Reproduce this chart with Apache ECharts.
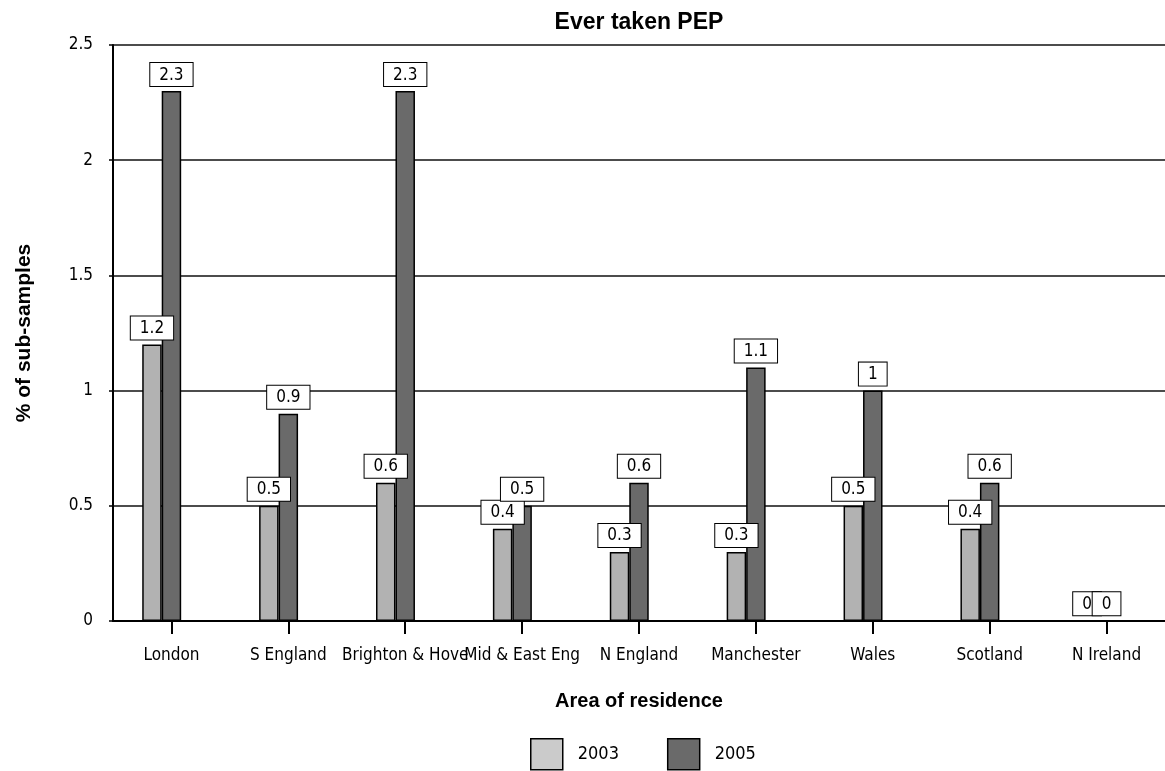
<!DOCTYPE html>
<html>
<head>
<meta charset="utf-8">
<script src="https://cdn.jsdelivr.net/npm/echarts@6/dist/echarts.min.js"></script>
<style>
html,body{margin:0;padding:0;background:#fff;}
#chart{width:1165px;height:771px;}
</style>
</head>
<body>
<div id="chart"></div>
<script>
var categories = ['London','S England','Brighton & Hove','Mid & East Eng','N England','Manchester','Wales','Scotland','N Ireland'];
var values2003 = [1.2, 0.5, 0.6, 0.4, 0.3, 0.3, 0.5, 0.4, 0];
var values2005 = [2.3, 0.9, 2.3, 0.5, 0.6, 1.1, 1, 0.6, 0];
var emptySlot = ['-','-','-','-','-','-','-','-','-'];
var yTicks = [0, 0.5, 1, 1.5, 2, 2.5];

var narrow = '"DejaVu Sans Condensed", "DejaVu Sans", sans-serif';
var boldFont = '"Liberation Sans", Arial, sans-serif';

var labelStyle = {
  show: true,
  position: 'top',
  distance: 5,
  color: '#000',
  fontFamily: narrow,
  fontSize: 17,
  lineHeight: 20,
  backgroundColor: '#fff',
  borderColor: '#000',
  borderWidth: 1,
  padding: [2, 9, 1, 9]
};

var chart = echarts.init(document.getElementById('chart'));
chart.setOption({
  animation: false,
  backgroundColor: '#fff',
  graphic: [{
    type: 'text',
    x: 639,
    y: 11,
    style: {
      text: 'Ever taken PEP',
      fill: '#000',
      align: 'center',
      verticalAlign: 'top',
      font: 'bold 23px "Liberation Sans", Arial, sans-serif'
    }
  }],
  legend: {
    top: 738,
    left: 530,
    padding: 0,
    icon: 'rect',
    itemWidth: 32,
    itemHeight: 31,
    itemGap: 48,
    data: [
      {name: '2003', itemStyle: {color: '#cbcbcb', borderColor: '#000', borderWidth: 1.5}},
      {name: '2005', itemStyle: {color: '#6a6a6a', borderColor: '#000', borderWidth: 1.5}}
    ],
    textStyle: {fontFamily: narrow, fontSize: 18, color: '#000', padding: [0, 0, 0, 10]}
  },
  grid: {left: 113, right: 0, top: 45, bottom: 150, containLabel: false},
  xAxis: {
    type: 'category',
    data: categories,
    name: 'Area of residence',
    nameLocation: 'middle',
    nameGap: 70,
    nameTextStyle: {fontFamily: boldFont, fontWeight: 'bold', fontSize: 20, color: '#000', verticalAlign: 'top'},
    axisLine: {lineStyle: {color: '#000', width: 2}},
    axisTick: {show: true, alignWithLabel: true, length: 13, lineStyle: {color: '#000', width: 2}},
    axisLabel: {fontFamily: narrow, fontSize: 17, color: '#000', margin: 26, interval: 0},
    splitLine: {show: false}
  },
  yAxis: {
    type: 'value',
    min: 0,
    max: 2.5,
    interval: 0.5,
    name: '% of sub-samples',
    nameLocation: 'middle',
    nameGap: 78,
    nameTextStyle: {fontFamily: boldFont, fontWeight: 'bold', fontSize: 21, color: '#000'},
    axisLine: {show: true, lineStyle: {color: '#000', width: 2}},
    axisTick: {show: true, length: 4, lineStyle: {color: '#000', width: 1.5}},
    axisLabel: {
      fontFamily: narrow, fontSize: 17, color: '#000', margin: 20,
      formatter: function (v) { return yTicks.indexOf(v) >= 0 ? String(v) : ''; }
    },
    splitLine: {show: true, lineStyle: {color: '#111', width: 1.5}}
  },
  series: [
    {
      name: '2003', type: 'bar', data: values2003,
      barGap: '0%', barCategoryGap: '50%',
      itemStyle: {color: '#b2b2b2', borderColor: '#000', borderWidth: 1.5},
      label: labelStyle, z: 3
    },
    {
      name: '2005', type: 'bar', data: values2005,
      barGap: '0%', barCategoryGap: '50%',
      itemStyle: {color: '#6a6a6a', borderColor: '#000', borderWidth: 1.5},
      label: labelStyle, z: 3
    },
    {
      name: 'unused', type: 'bar', data: emptySlot,
      barGap: '0%', barCategoryGap: '50%',
      itemStyle: {color: 'transparent'}
    }
  ]
});
</script>
</body>
</html>
